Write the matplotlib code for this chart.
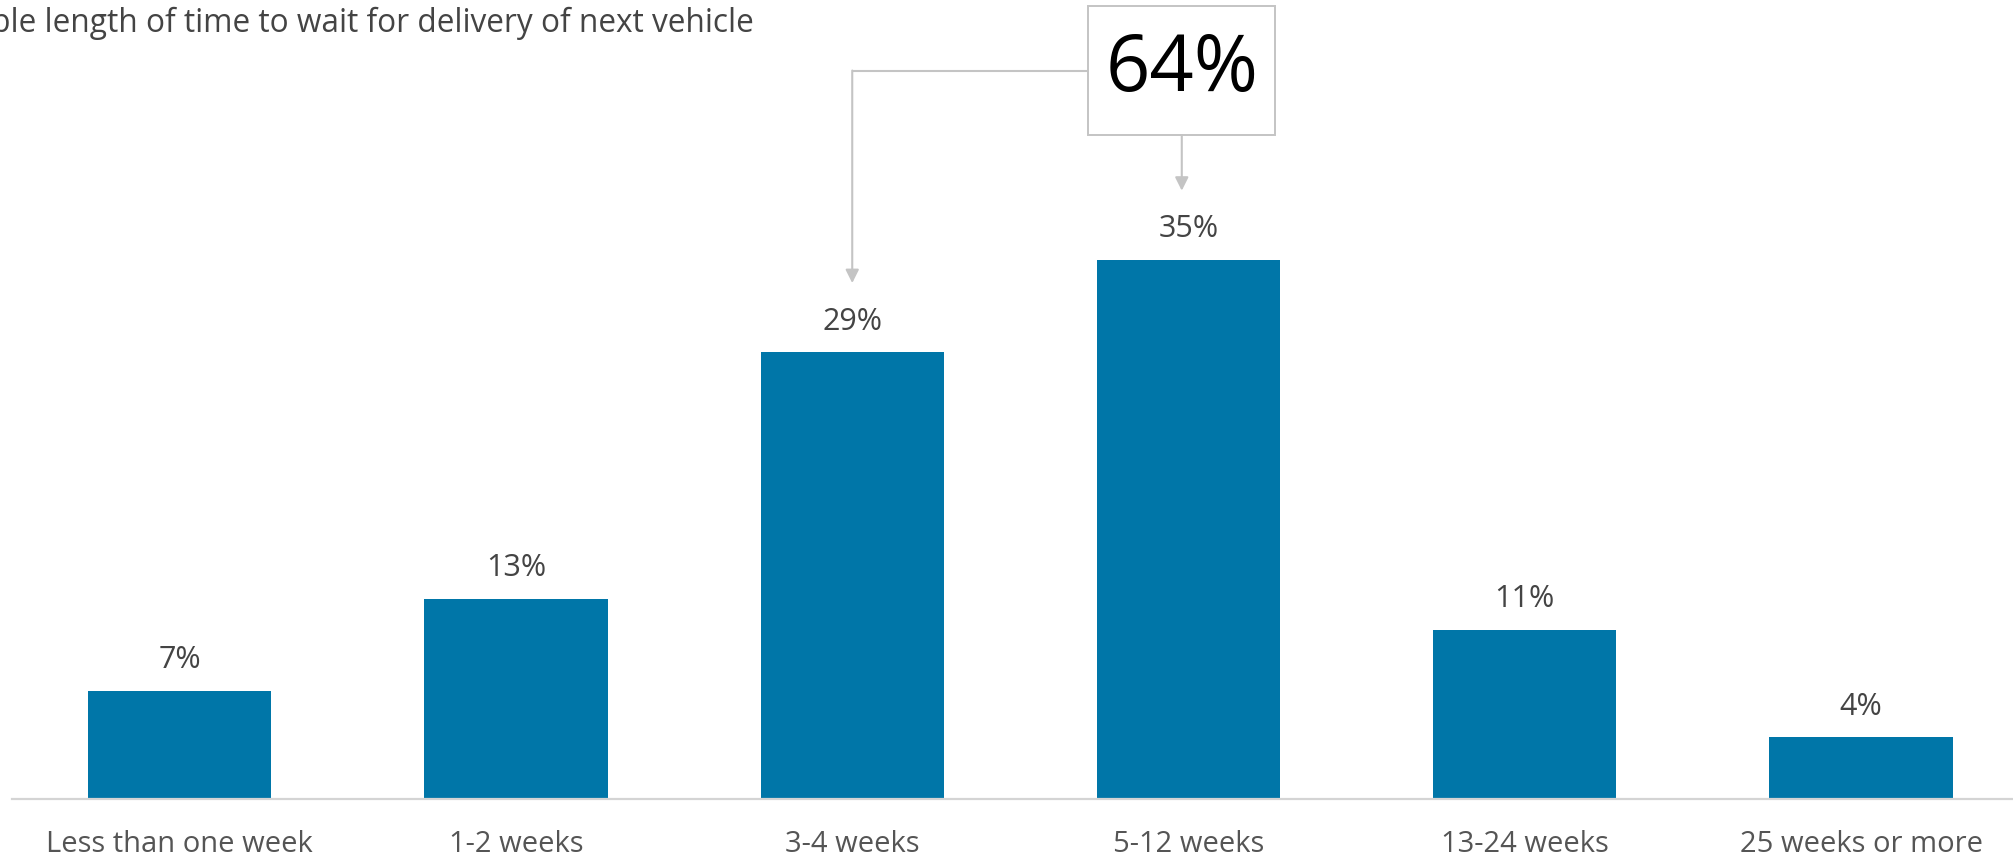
import matplotlib.pyplot as plt
from matplotlib.patches import Rectangle

categories = ["Less than one week", "1-2 weeks", "3-4 weeks", "5-12 weeks",
              "13-24 weeks", "25 weeks or more"]
shares = [7, 13, 29, 35, 11, 4]
title = "Acceptable length of time to wait for delivery of next vehicle"
# the two middle buckets get the combined callout
callout_idx = [2, 3]

plt.rcParams['font.family'] = ['Open Sans', 'DejaVu Sans']
BLUE = "#0076a8"
GREY = "#c4c4c4"
TEXT = "#444444"

fig = plt.figure(figsize=(20.13, 8.59), dpi=100)
ax = fig.add_axes([11.6 / 2013, 60 / 859, 1 - 11.6 / 2013, 799 / 859])

x = list(range(len(categories)))
ax.bar(x, shares, width=0.545, color=BLUE, zorder=2)
for xi, v in zip(x, shares):
    ax.text(xi, v + 2.0, f"{v}%", ha="center", va="center", fontsize=22, color=TEXT)

ax.set_xlim(-0.5, 5.452)
ax.set_ylim(0, 51.88)
for s in ["top", "right", "left"]:
    ax.spines[s].set_visible(False)
ax.spines["bottom"].set_color("#d4d4d4")
ax.spines["bottom"].set_linewidth(1.6)
ax.set_yticks([])
ax.set_xticks(x)
ax.set_xticklabels(categories, fontsize=21, color="#555555")
ax.tick_params(axis="x", length=0, pad=22)

# combined callout box over the 5-12 weeks bar
total = sum(shares[i] for i in callout_idx)
bx, by, bw, bh = 2.98, 47.3, 0.556, 8.4
ax.add_patch(Rectangle((bx - bw / 2, by - bh / 2), bw, bh, facecolor="white",
                       edgecolor=GREY, linewidth=1.4, clip_on=False, zorder=3))
ax.text(bx, by, f"{total}%", ha="center", va="center", fontsize=56,
        color="black", zorder=4)

arrow = dict(arrowstyle="-|>,head_length=0.8,head_width=0.4", color=GREY, lw=1.5,
             shrinkA=0, shrinkB=0)
left, right = callout_idx
# straight arrow down to the right bar
ax.annotate("", xy=(bx, shares[right] + 4.5), xytext=(bx, by - bh / 2),
            arrowprops=arrow)
# elbow connector to the left bar
ax.plot([bx - bw / 2, left], [by, by], color=GREY, lw=1.5, solid_capstyle="butt")
ax.annotate("", xy=(left, shares[left] + 4.5), xytext=(left, by),
            arrowprops=arrow)

fig.text(754 / 2013, 1 - 23 / 859, title, ha="right", va="center",
         fontsize=22.8, color=TEXT)

fig.savefig("out.png", dpi=100)
